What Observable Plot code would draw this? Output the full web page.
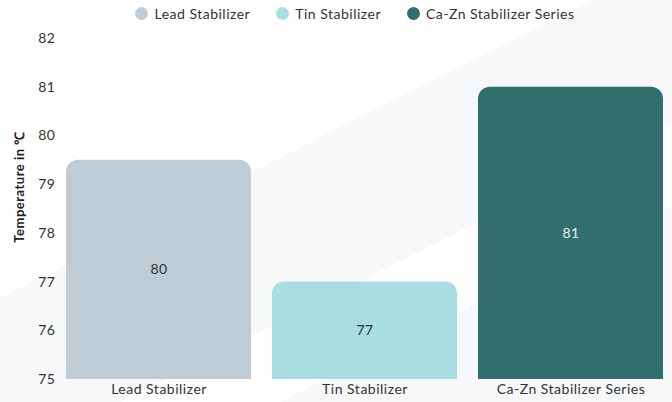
<!DOCTYPE html>
<html>
<head>
<meta charset="utf-8">
<script src="https://cdn.jsdelivr.net/npm/d3@7"></script>
<script src="https://cdn.jsdelivr.net/npm/@observablehq/plot@0.6"></script>
<style>
  html, body { margin: 0; padding: 0; background: #fff; }
  #wrap {
    width: 672px; height: 402px; overflow: hidden;
    font-family: Lato, "Open Sans", sans-serif;
    background: linear-gradient(153.4deg, #ffffff 0px, #ffffff 266px, #f7f8fa 266px, #f7f8fa 413px, #ffffff 413px, #ffffff 485px, #f7f8fa 485px, #f7f8fa 700px);
  }
  #legend {
    height: 26px; display: flex; justify-content: center; align-items: center;
    gap: 26px; font-size: 14px; color: #333; padding-left: 38px; box-sizing: border-box;
    letter-spacing: 0.5px;
  }
  #legend .item { display: flex; align-items: center; gap: 6px; }
  #legend .sw { width: 13px; height: 13px; border-radius: 50%; display: inline-block; }
</style>
</head>
<body>
<div id="wrap">
  <div id="legend"></div>
  <div id="chart"></div>
</div>
<script>
const categories = ["Lead Stabilizer", "Tin Stabilizer", "Ca-Zn Stabilizer Series"];
const values = [79.5, 77, 81];
const colors = ["#bfccd5", "#a8dde2", "#316e6d"];
const labelColors = ["#333333", "#333333", "#e6efee"];
const yTicks = [75, 76, 77, 78, 79, 80, 81, 82];
const yLabel = "Temperature in ℃";

const yMin = yTicks[0];
const data = categories.map((c, i) => ({
  category: c, value: values[i], base: yMin,
  mid: (yMin + values[i]) / 2, label: String(Math.round(values[i])),
  labelColor: labelColors[i]
}));

const legend = document.getElementById("legend");
categories.forEach((c, i) => {
  const it = document.createElement("div");
  it.className = "item";
  it.innerHTML = `<span class="sw" style="background:${colors[i]}"></span><span>${c}</span>`;
  legend.appendChild(it);
});

const plot = Plot.plot({
  width: 672,
  height: 376,
  marginLeft: 58,
  marginRight: 0,
  marginTop: 12,
  marginBottom: 23,
  style: { background: "transparent", fontFamily: "Lato, 'Open Sans', sans-serif", fontSize: "14px", color: "#333", letterSpacing: "0.5px" },
  x: { domain: categories, paddingInner: 0.1, paddingOuter: 0.04, label: null },
  y: { domain: [yTicks[0], yTicks[yTicks.length - 1]], ticks: yTicks, label: null },
  color: { domain: categories, range: colors },
  marks: [
    Plot.barY(data, { x: "category", y1: "base", y2: "value", fill: "category", rx: 12, ry: 12 }),
    Plot.barY(data, { x: "category", y1: "base", y2: "mid", fill: "category" }),
    Plot.text(data, { x: "category", y: "mid", text: "label", fill: "labelColor", fontSize: 14 }),
    Plot.axisY({ ticks: yTicks, tickSize: 0, tickPadding: 3, label: null, fontSize: 14, tickFormat: d => String(d) }),
    Plot.axisX({ tickSize: 0, tickPadding: 5, label: null, fontSize: 14 }),
    Plot.text([yLabel], { frameAnchor: "left", textAnchor: "middle", rotate: -90, dx: -39, dy: -22, fontWeight: "bold", fontSize: 13, fill: "#222" })
  ]
});
document.getElementById("chart").appendChild(plot);
</script>
</body>
</html>
